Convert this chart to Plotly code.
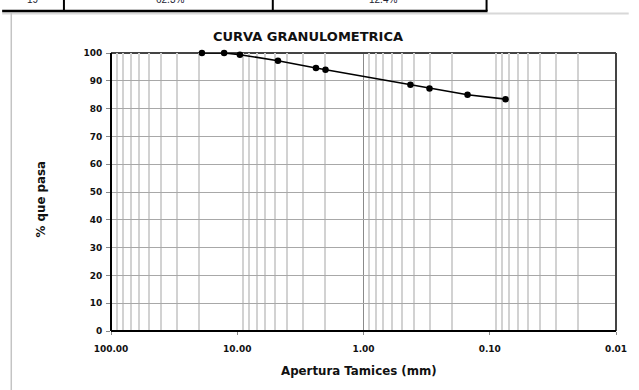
import numpy as np
import plotly.graph_objects as go

# Sieve openings (mm) and cumulative percent passing
abertura_mm = [19.05, 12.70, 9.525, 4.76, 2.38, 2.00, 0.425, 0.30, 0.15, 0.075]
pct_pasa = [100.0, 100.0, 99.4, 97.2, 94.6, 94.0, 88.6, 87.2, 85.0, 83.4]

# Axis labelling
x_tick_vals = [100, 10, 1, 0.1, 0.01]
x_tick_text = ["100.00", "10.00", "1.00", "0.10", "0.01"]
y_tick_vals = [0, 10, 20, 30, 40, 50, 60, 70, 80, 90, 100]

# Table row shown above the chart
tabla_textos = ["19", "62.3%", "12.4%"]

W, H = 639, 390
L, R, T, B = 111, 13, 53, 59
PW, PH = W - L - R, H - T - B


def px(x, y):
    """Page pixel -> paper coordinates."""
    return (x - L) / PW, (H - B - y) / PH


def bold(s):
    return "<b>" + s + "</b>"


# log-cycle subdivisions (2..9 of every decade)
minor_vals = [m * 10.0 ** e for e in range(-2, 2) for m in range(2, 10)]
major_inner = [10, 1, 0.1]

FONT = "DejaVu Sans"

fig = go.Figure()
fig.add_trace(go.Scatter(
    x=abertura_mm, y=pct_pasa, mode="lines+markers",
    line=dict(color="black", width=1.6),
    marker=dict(color="black", size=6.5),
    cliponaxis=False,
    showlegend=False,
))

fig.update_xaxes(
    type="log", range=[2, -2],
    tickmode="array", tickvals=x_tick_vals,
    ticktext=[bold(t) for t in x_tick_text],
    ticks="outside", ticklen=3, tickcolor="#888", tickwidth=1,
    tickfont=dict(family=FONT, size=9, color="#111"),
    ticklabelstandoff=6,
    showgrid=False, zeroline=False, showline=False,
    minor=dict(tickmode="array", tickvals=minor_vals, showgrid=True,
               gridcolor="#d2d2d2", gridwidth=1.6, ticks=""),
)
fig.update_yaxes(
    range=[0, 100], tickmode="array", tickvals=y_tick_vals,
    ticktext=[bold(str(v)) for v in y_tick_vals],
    ticks="outside", ticklen=4, tickcolor="#888", tickwidth=1,
    tickfont=dict(family=FONT, size=9, color="#111"),
    ticklabelstandoff=2,
    showgrid=True, gridcolor="#a8a8a8", gridwidth=1,
    zeroline=False, showline=False,
)

shapes = []
# darker decade lines
for v in major_inner:
    shapes.append(dict(type="line", xref="x", yref="paper",
                       x0=np.log10(v), x1=np.log10(v), y0=0, y1=1,
                       line=dict(color="#8a8a8a", width=1), layer="below"))
# plot frame
shapes += [
    dict(type="line", xref="paper", yref="paper", x0=0, x1=1, y0=1, y1=1,
         line=dict(color="#444", width=2), layer="below"),
    dict(type="line", xref="paper", yref="paper", x0=1, x1=1, y0=0, y1=1,
         line=dict(color="#444", width=2)),
    dict(type="line", xref="paper", yref="paper", x0=0, x1=0, y0=0, y1=1,
         line=dict(color="black", width=2)),
    dict(type="line", xref="paper", yref="paper", x0=0, x1=1, y0=0, y1=0,
         line=dict(color="black", width=2)),
]
# sheet frame
a = px(0, 13.5); b = px(W, 13.5)
shapes.append(dict(type="line", xref="paper", yref="paper", x0=a[0], y0=a[1],
                   x1=b[0], y1=b[1], line=dict(color="#d8d8d8", width=2)))
a = px(9.3, 13); b = px(9.3, H + 2)
shapes.append(dict(type="line", xref="paper", yref="paper", x0=a[0], y0=a[1],
                   x1=b[0], y1=b[1], line=dict(color="#c4c4c4", width=1.5)))
# table edge above the chart
a = px(0, 11); b = px(495, 11)
shapes.append(dict(type="line", xref="paper", yref="paper", x0=a[0], y0=a[1],
                   x1=b[0], y1=b[1], line=dict(color="black", width=2.5)))
for xv in (63, 276, 494):
    a = px(xv, -2); b = px(xv, 11)
    shapes.append(dict(type="line", xref="paper", yref="paper", x0=a[0], y0=a[1],
                       x1=b[0], y1=b[1], line=dict(color="black", width=2)))

annotations = []
for txt, cx in zip(tabla_textos, (31, 171, 388)):
    p = px(cx, -1)
    annotations.append(dict(text=txt, xref="paper", yref="paper", x=p[0], y=p[1],
                            showarrow=False, xanchor="center", yanchor="middle",
                            font=dict(family="Liberation Sans", size=10, color="#223")))
p = px(312, 37)
annotations.append(dict(text=bold("CURVA GRANULOMETRICA"), xref="paper", yref="paper",
                        x=p[0], y=p[1], showarrow=False, xanchor="center", yanchor="middle",
                        font=dict(family=FONT, size=13, color="#111")))
p = px(363.5, 371)
annotations.append(dict(text=bold("Apertura Tamices (mm)"), xref="paper", yref="paper",
                        x=p[0], y=p[1], showarrow=False, xanchor="center", yanchor="middle",
                        font=dict(family=FONT, size=11.8, color="#111")))
p = px(40, 199)
annotations.append(dict(text=bold("% que pasa"), xref="paper", yref="paper",
                        x=p[0], y=p[1], showarrow=False, textangle=-90,
                        xanchor="center", yanchor="middle",
                        font=dict(family=FONT, size=11.8, color="#111")))

fig.update_layout(
    width=W, height=H,
    margin=dict(l=L, r=R, t=T, b=B),
    paper_bgcolor="white", plot_bgcolor="white",
    shapes=shapes, annotations=annotations,
)

fig.write_html("out.html")
